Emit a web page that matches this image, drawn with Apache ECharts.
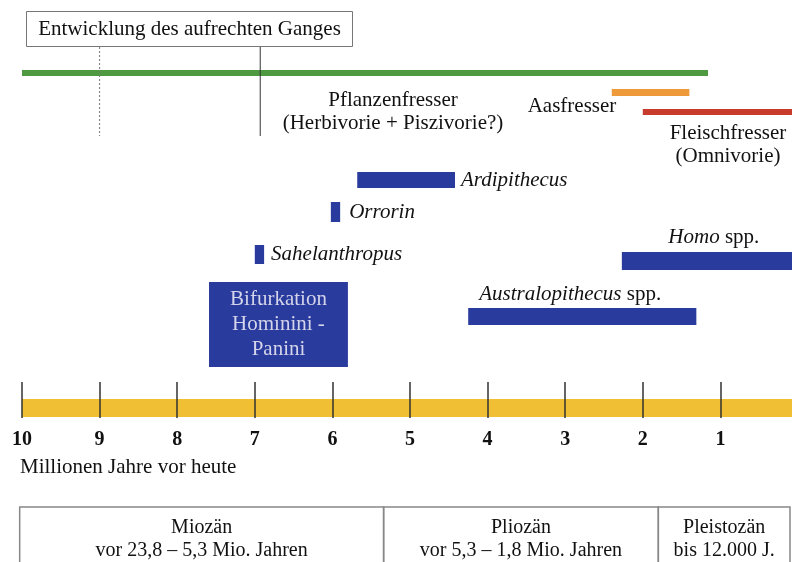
<!DOCTYPE html>
<html>
<head>
<meta charset="utf-8">
<script src="https://cdn.jsdelivr.net/npm/echarts@6/dist/echarts.min.js"></script>
<style>
html, body { margin: 0; padding: 0; background: #fff; }
#chart { width: 792px; height: 562px; }
</style>
</head>
<body>
<div id="chart"></div>
<script>
// Zeitachse in Mio. Jahren vor heute
var tickValues = [10, 9, 8, 7, 6, 5, 4, 3, 2, 1];
var tickLabels = ['10', '9', '8', '7', '6', '5', '4', '3', '2', '1'];

// Balken: Zeitraum von ... bis (Mio. Jahre)
var barNames = ['Pflanzenfresser', 'Aasfresser', 'Fleischfresser', 'Ardipithecus', 'Orrorin',
    'Sahelanthropus', 'Homo', 'Australopithecus', 'Bifurkation', 'Zeitleiste'];
var barStart = [10, 2.4, 2.0, 5.68, 6.02, 7.0, 2.27, 4.25, 7.59, 10];
var barEnd = [1.16, 1.4, 0, 4.42, 5.9, 6.88, 0, 1.31, 5.8, 0];

// Entwicklung des aufrechten Ganges (Markierungen)
var uprightMarks = [9.0, 6.93];

// Erdzeitalter
var epochNames = ['Miozän', 'Pliozän', 'Pleistozän'];
var epochSpans = ['vor 23,8 – 5,3 Mio. Jahren', 'vor 5,3 – 1,8 Mio. Jahren', 'bis 12.000 J.'];
var epochStart = [23.8, 5.34, 1.8];
var epochEnd = [5.34, 1.8, 0.012];

var FONT = 'Liberation Serif';
var BLUE = '#2a3b9e';

// Lage der Balken (Pixel auf der y-Skala) und Beschriftung
var lanes = {
    Pflanzenfresser: { top: 70, bottom: 76, color: '#4f9a40' },
    Aasfresser: { top: 89, bottom: 96, color: '#ee9a3a' },
    Fleischfresser: { top: 109, bottom: 115, color: '#c83a2c' },
    Ardipithecus: { top: 172, bottom: 188, color: BLUE, label: '{i|Ardipithecus}', side: 'right', dx: 6 },
    Orrorin: { top: 202, bottom: 222, color: BLUE, label: '{i|Orrorin}', side: 'right', dx: 9 },
    Sahelanthropus: { top: 245, bottom: 264, color: BLUE, label: '{i|Sahelanthropus}', side: 'right', dx: 7 },
    Homo: { top: 252, bottom: 270, color: BLUE, label: '{i|Homo} spp.', side: 'top', dx: 92, dy: -4 },
    Australopithecus: { top: 308, bottom: 325, color: BLUE, label: '{i|Australopithecus} spp.', side: 'top', dx: 102, dy: -3 },
    Bifurkation: { top: 282, bottom: 367, color: BLUE, label: 'Bifurkation\nHominini -\nPanini', side: 'inside' },
    Zeitleiste: { top: 399, bottom: 417, color: '#f0bf33' }
};

var barData = barNames.map(function (n, i) { return [barStart[i], barEnd[i], i]; });
var markData = uprightMarks.map(function (v, i) { return [v, i]; });
var epochData = epochNames.map(function (n, i) { return [Math.min(epochStart[i], 10.03), epochEnd[i], i]; });

var richItalic = { i: { fontStyle: 'italic', fontFamily: FONT, fontSize: 21, fill: '#111' } };

function renderBar(params, api) {
    var name = barNames[api.value(2)];
    var lane = lanes[name];
    var p0 = api.coord([api.value(0), lane.top]);
    var p1 = api.coord([api.value(1), lane.bottom]);
    var children = [{
        type: 'rect',
        shape: { x: p0[0], y: p0[1], width: p1[0] - p0[0], height: p1[1] - p0[1] },
        style: { fill: lane.color }
    }];
    if (lane.label) {
        var st = { text: lane.label, rich: richItalic, font: '21px "' + FONT + '"', fill: '#111' };
        if (lane.side === 'right') {
            st.x = p1[0] + lane.dx; st.y = (p0[1] + p1[1]) / 2;
            st.align = 'left'; st.verticalAlign = 'middle';
        } else if (lane.side === 'top') {
            st.x = p0[0] + lane.dx; st.y = p0[1] + lane.dy;
            st.align = 'center'; st.verticalAlign = 'bottom';
        } else {
            st.x = (p0[0] + p1[0]) / 2; st.y = (p0[1] + p1[1]) / 2;
            st.align = 'center'; st.verticalAlign = 'middle';
            st.fill = '#d4d4ea'; st.lineHeight = 25;
        }
        children.push({ type: 'text', style: st });
    }
    return { type: 'group', children: children };
}

function renderMark(params, api) {
    var top = api.coord([api.value(0), 47]);
    var bottom = api.coord([api.value(0), 136]);
    var dotted = api.value(1) === 0;
    return {
        type: 'line',
        shape: { x1: top[0], y1: top[1], x2: bottom[0], y2: bottom[1] },
        style: { stroke: dotted ? '#777' : '#333', lineWidth: 1, lineDash: dotted ? [2, 2] : null }
    };
}

function renderEpoch(params, api) {
    var i = api.value(2);
    var p0 = api.coord([api.value(0), 507]);
    var p1 = api.coord([api.value(1), 600]);
    var x1 = Math.min(p1[0], 790);
    return {
        type: 'group',
        children: [{
            type: 'rect',
            shape: { x: p0[0], y: p0[1], width: x1 - p0[0], height: p1[1] - p0[1] },
            style: { fill: 'none', stroke: '#888', lineWidth: 1.5 }
        }, {
            type: 'text',
            style: {
                text: epochNames[i] + '\n' + epochSpans[i],
                x: (p0[0] + x1) / 2, y: 539,
                align: 'center', verticalAlign: 'middle',
                font: '20px "' + FONT + '"', lineHeight: 23, fill: '#111'
            }
        }]
    };
}

var chart = echarts.init(document.getElementById('chart'), null, { renderer: 'canvas' });
chart.setOption({
    backgroundColor: '#fff',
    animation: false,
    grid: [
        { left: 22, width: 776, top: 0, height: 562, outerBoundsMode: 'none' },
        { left: 22, width: 776, top: 382, height: 36, outerBoundsMode: 'none' }
    ],
    xAxis: [{
        gridIndex: 0, type: 'value', min: 0, max: 10, inverse: true, show: false
    }, {
        gridIndex: 1, type: 'value', min: 0, max: 10, interval: 1, inverse: true, z: 10,
        axisLine: { show: false },
        axisTick: { show: true, inside: true, length: 36, lineStyle: { color: '#333', width: 1.5 } },
        splitLine: { show: false },
        axisLabel: {
            margin: 12, color: '#111', fontFamily: FONT, fontSize: 20, fontWeight: 'bold',
            showMinLabel: true, showMaxLabel: true,
            formatter: function (v) {
                var k = tickValues.indexOf(v);
                return k < 0 ? '' : tickLabels[k];
            }
        }
    }],
    yAxis: [
        { gridIndex: 0, type: 'value', min: 0, max: 562, inverse: true, show: false },
        { gridIndex: 1, type: 'value', min: 0, max: 1, show: false }
    ],
    graphic: [{
        type: 'group', left: 26, top: 11,
        children: [{
            type: 'rect', shape: { x: 0, y: 0, width: 326, height: 35 },
            style: { fill: '#fff', stroke: '#777', lineWidth: 1 }
        }, {
            type: 'text', x: 163, y: 18,
            style: { text: 'Entwicklung des aufrechten Ganges', align: 'center', verticalAlign: 'middle',
                font: '21px "' + FONT + '"', fill: '#111' }
        }]
    }, {
        type: 'text', x: 393, y: 112,
        style: { text: 'Pflanzenfresser\n(Herbivorie + Piszivorie?)', align: 'center', verticalAlign: 'middle',
            font: '21px "' + FONT + '"', lineHeight: 23, fill: '#111' }
    }, {
        type: 'text', x: 572, y: 106,
        style: { text: 'Aasfresser', align: 'center', verticalAlign: 'middle',
            font: '21px "' + FONT + '"', fill: '#111' }
    }, {
        type: 'text', x: 728, y: 145,
        style: { text: 'Fleischfresser\n(Omnivorie)', align: 'center', verticalAlign: 'middle',
            font: '21px "' + FONT + '"', lineHeight: 23, fill: '#111' }
    }, {
        type: 'text', x: 20, y: 467,
        style: { text: 'Millionen Jahre vor heute', align: 'left', verticalAlign: 'middle',
            font: '21px "' + FONT + '"', fill: '#111' }
    }],
    series: [{
        type: 'custom', name: 'Zeiträume', xAxisIndex: 0, yAxisIndex: 0,
        renderItem: renderBar, encode: { x: [0, 1] }, data: barData, z: 2
    }, {
        type: 'custom', name: 'Aufrechter Gang', xAxisIndex: 0, yAxisIndex: 0,
        renderItem: renderMark, encode: { x: 0 }, data: markData, z: 3
    }, {
        type: 'custom', name: 'Erdzeitalter', xAxisIndex: 0, yAxisIndex: 0,
        renderItem: renderEpoch, encode: { x: [0, 1] }, data: epochData, z: 2
    }]
});
</script>
</body>
</html>
